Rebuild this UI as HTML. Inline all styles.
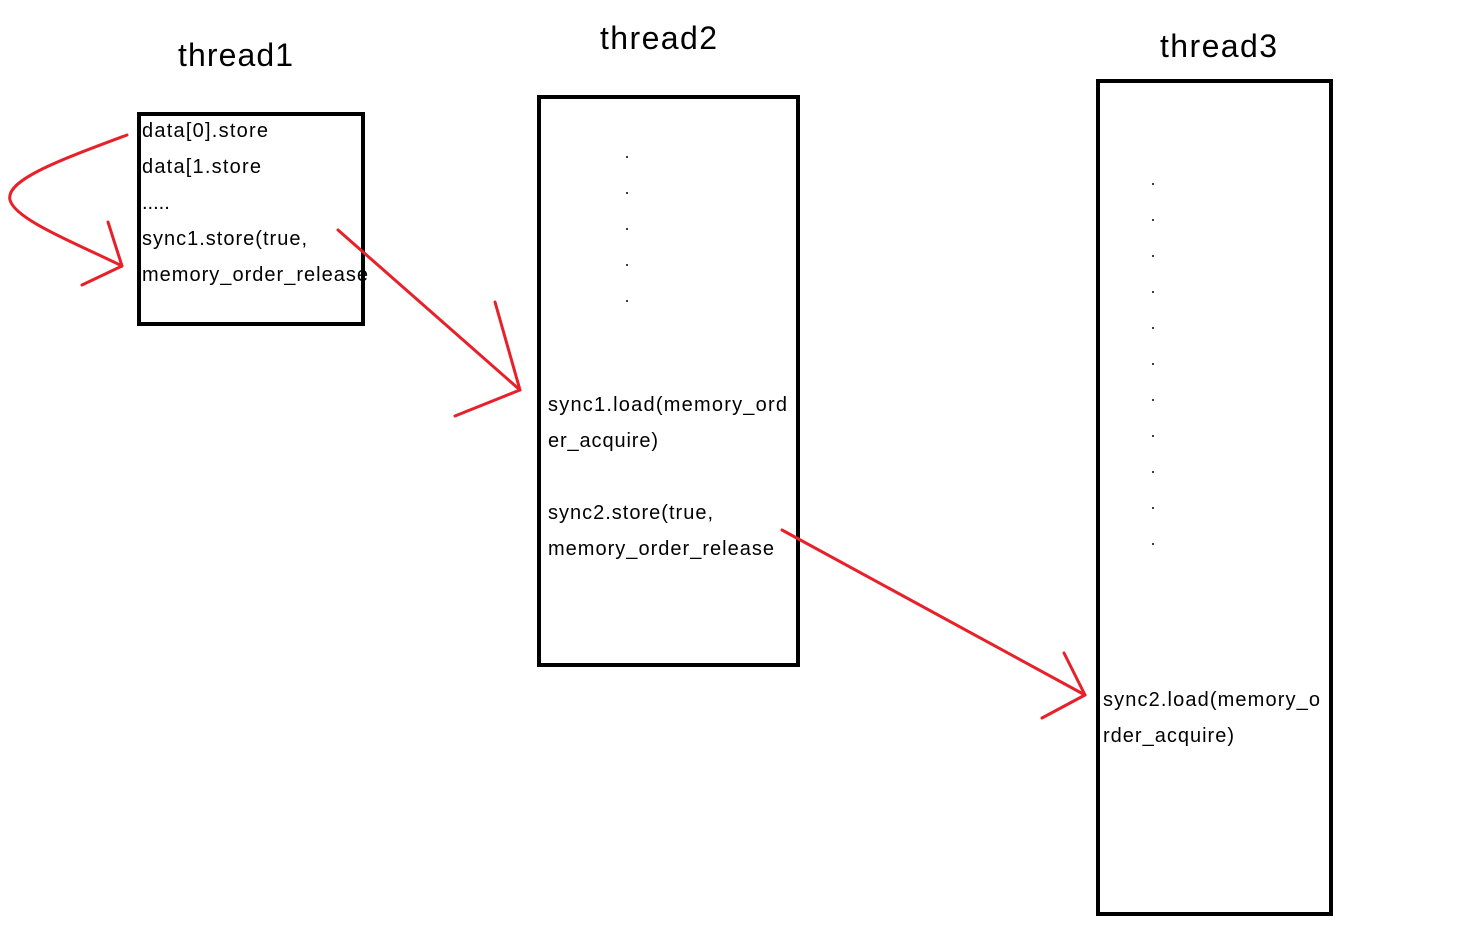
<!DOCTYPE html>
<html><head><meta charset="utf-8"><style>
html,body{margin:0;padding:0;background:#fff;}
svg{display:block;}
text{font-family:"Liberation Sans","Noto Sans CJK SC",sans-serif;fill:#000;}
.t{font-size:20px;}
.h{font-size:32px;}
</style></head><body>
<svg width="1480" height="936" viewBox="0 0 1480 936">
<text class="h" x="178" y="66" textLength="115">thread1</text>
<text class="h" x="600" y="49" textLength="117">thread2</text>
<text class="h" x="1160" y="57" textLength="117">thread3</text>

<rect x="139" y="114" width="224" height="210" fill="none" stroke="#000" stroke-width="4"/>
<rect x="539" y="97" width="259" height="568" fill="none" stroke="#000" stroke-width="4"/>
<rect x="1098" y="81" width="233" height="833" fill="none" stroke="#000" stroke-width="4"/>

<g class="t">
<text class="t" x="142" y="137" textLength="126">data[0].store</text>
<text class="t" x="142" y="173" textLength="119">data[1.store</text>
<text class="t" x="142" y="209">.....</text>
<text class="t" x="142" y="245" textLength="165">sync1.store(true,</text>
<text class="t" x="142" y="281" textLength="226">memory_order_release</text>
</g>

<g fill="#000">
<circle cx="627" cy="157" r="1"/><circle cx="627" cy="193" r="1"/><circle cx="627" cy="229" r="1"/><circle cx="627" cy="265" r="1"/><circle cx="627" cy="301" r="1"/>
</g>
<g>
<text class="t" x="548" y="411" textLength="239">sync1.load(memory_ord</text>
<text class="t" x="548" y="447" textLength="110">er_acquire)</text>
<text class="t" x="548" y="519" textLength="165">sync2.store(true,</text>
<text class="t" x="548" y="555" textLength="226">memory_order_release</text>
</g>

<g fill="#000">
<circle cx="1153" cy="184" r="1"/><circle cx="1153" cy="220" r="1"/><circle cx="1153" cy="256" r="1"/><circle cx="1153" cy="292" r="1"/><circle cx="1153" cy="328" r="1"/><circle cx="1153" cy="364" r="1"/><circle cx="1153" cy="400" r="1"/><circle cx="1153" cy="436" r="1"/><circle cx="1153" cy="472" r="1"/><circle cx="1153" cy="508" r="1"/><circle cx="1153" cy="544" r="1"/>
</g>
<g>
<text class="t" x="1103" y="706" textLength="217">sync2.load(memory_o</text>
<text class="t" x="1103" y="742" textLength="131">rder_acquire)</text>
</g>

<g stroke="#e8202a" stroke-width="3" fill="none" stroke-linecap="round" stroke-linejoin="round">
<path d="M127 135 C 60 160, 5 180, 10 200 C 15 220, 80 245, 122 266"/>
<path d="M108 222 L122 266 L82 285"/>
<path d="M338 230 L520 390"/>
<path d="M495 302 L520 390 L455 416"/>
<path d="M782 530 L1085 695"/>
<path d="M1064 653 L1085 695 L1042 718"/>
</g>
</svg>
</body></html>
